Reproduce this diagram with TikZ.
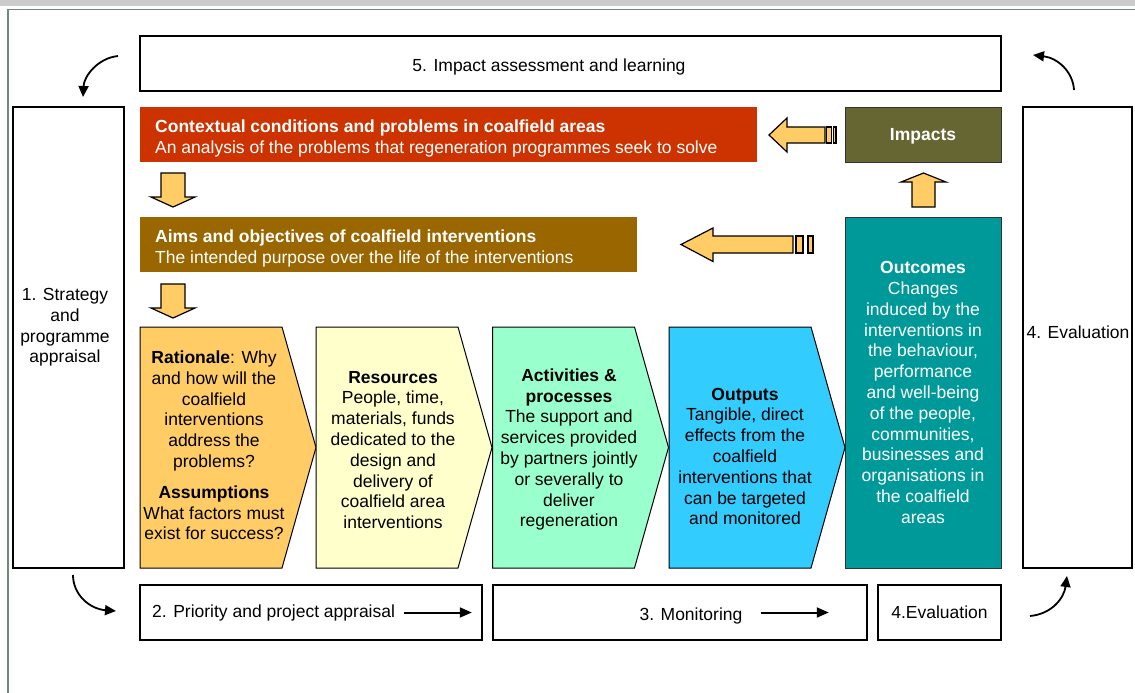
\documentclass[tikz,border=0pt]{standalone}
\usepackage{fontspec}
\setmainfont{Liberation Sans}
\usepackage{tikz}
\usetikzlibrary{shapes,arrows,arrows.meta,positioning}
\definecolor{coalred}{HTML}{CC3300}
\definecolor{aimbrown}{HTML}{996600}
\definecolor{impolive}{HTML}{666633}
\definecolor{outteal}{HTML}{009999}
\definecolor{ratorange}{HTML}{FFCC66}
\definecolor{resyellow}{HTML}{FFFFCC}
\definecolor{actgreen}{HTML}{99FFCC}
\definecolor{outpblue}{HTML}{33CCFF}
\definecolor{framegreen}{HTML}{6F8A7A}
\definecolor{bargray}{HTML}{CCCCCC}
\newcommand{\diagfont}{\fontsize{17.5}{20.8}\selectfont}
\tikzstyle{stagebox} = [draw=black, line width=1.5pt, rectangle, inner sep=0pt]
\tikzstyle{stagetext} = [font=\diagfont, align=center, inner sep=0pt]
\tikzstyle{bandbox} = [rectangle, inner sep=0pt, anchor=north west]
\tikzstyle{bandtext} = [font=\diagfont, text=white, align=left, anchor=west, inner sep=0pt]
\tikzstyle{resultbox} = [rectangle, draw=black!80, line width=1pt, text=white, font=\diagfont, align=center, inner sep=0pt]
\tikzstyle{chevron} = [draw=black, line width=1pt]
\tikzstyle{blockarrow} = [draw=black, line width=1.2pt, fill=ratorange]
\tikzstyle{turnarrow} = [line width=1.8pt, -{Triangle[length=11pt,width=10pt]}]
\tikzstyle{flowarrow} = [line width=2pt, -{Triangle[length=12pt,width=10pt]}]

\begin{document}
\begin{tikzpicture}[x=1pt,y=-1pt]
	\useasboundingbox (0,0) rectangle (1135,693);
	\fill[bargray] (0,0) rectangle (1135,6.5);
	\draw[framegreen, line width=1.5pt] (8,693) -- (8,9.5) -- (1135,9.5);

	% frame of the cycle
	\node[stagebox, minimum width=861pt, minimum height=55pt] (learning) at (570.5,63.5) {};
	\node[stagetext] (learninglabel) at (549,67) {5. Impact assessment and learning};
	\node[stagebox, minimum width=111pt, minimum height=461pt] (strategy) at (68.5,337.5) {};
	\node[stagetext] (strategylabel) at (65,327.5) {1. Strategy\\and\\programme\\appraisal};
	\node[stagebox, minimum width=109pt, minimum height=461pt] (evaluation) at (1077.5,337.5) {};
	\node[stagetext] (evaluationlabel) at (1078,332) {4. Evaluation};

	% bands
	\node[bandbox, fill=coalred, minimum width=617pt, minimum height=55pt] (context) at (140,107) {};
	\node[bandtext] (contextlabel) at (155,138.5) {\textbf{Contextual conditions and problems in coalfield areas}\\An analysis of the problems that regeneration programmes seek to solve};
	\node[bandbox, fill=aimbrown, minimum width=497pt, minimum height=55pt] (aims) at (140,217) {};
	\node[bandtext] (aimslabel) at (155,248.5) {\textbf{Aims and objectives of coalfield interventions}\\The intended purpose over the life of the interventions};

	\node[resultbox, fill=impolive, minimum width=156pt, minimum height=55pt, text depth=0pt] (impacts) at (923,134.5) {\textbf{Impacts}};
	\node[resultbox, fill=outteal, minimum width=156pt, minimum height=351pt] (outcomes) at (923,392.5) {\textbf{Outcomes}\\Changes\\induced by the\\interventions in\\the behaviour,\\performance\\and well-being\\of the people,\\communities,\\businesses and\\organisations in\\the coalfield\\areas};

	% chevrons
	\foreach \xl/\col in {140/ratorange, 316/resyellow, 492.5/actgreen, 669/outpblue}
		\draw[chevron, fill=\col] (\xl,327) -- ++(142,0) -- ++(34,120.5) -- ++(-34,120.5) -- ++(-142,0) -- cycle;
	\node[stagetext] (rationale) at (214,445.5) {\textbf{Rationale}: Why\\and how will the\\coalfield\\interventions\\address the\\problems?\\[10pt]\textbf{Assumptions}\\What factors must\\exist for success?};
	\node[stagetext] (resources) at (393,450) {\textbf{Resources}\\People, time,\\materials, funds\\dedicated to the\\design and\\delivery of\\coalfield area\\interventions};
	\node[stagetext] (activities) at (569,449.5) {\textbf{Activities \&}\\\textbf{processes}\\The support and\\services provided\\by partners jointly\\or severally to\\deliver\\regeneration};
	\node[stagetext] (outputs) at (745,456.5) {\textbf{Outputs}\\Tangible, direct\\effects from the\\coalfield\\interventions that\\can be targeted\\and monitored};

	% block arrows
	\foreach \ytop in {173,284}
		\draw[blockarrow] (161,\ytop) -- (185,\ytop) -- (185,\ytop+24) -- (195,\ytop+24) -- (173,\ytop+34) -- (151,\ytop+24) -- (161,\ytop+24) -- cycle;
	\draw[blockarrow] (912,207) -- (912,182) -- (901,182) -- (923.5,173) -- (946,182) -- (935,182) -- (935,207) -- cycle;
	\draw[blockarrow] (769,135) -- (787,118) -- (787,127) -- (825,127) -- (825,143) -- (787,143) -- (787,152) -- cycle;
	\draw[blockarrow] (826.5,127) rectangle (831.5,143);
	\draw[blockarrow] (833.5,127) rectangle (836,143);
	\draw[blockarrow] (681,244.5) -- (713,228) -- (713,236) -- (793,236) -- (793,253) -- (713,253) -- (713,261.5) -- cycle;
	\draw[blockarrow] (796,236) rectangle (803,253);
	\draw[blockarrow] (808,236) rectangle (813,253);

	% bottom row
	\node[stagebox, minimum width=342pt, minimum height=55pt] (priority) at (311,612.5) {};
	\node[stagetext, anchor=west] (prioritylabel) at (152,613) {2. Priority and project appraisal};
	\draw[flowarrow] ([xshift=-79pt]priority.east) -- ([xshift=-11pt]priority.east);
	\node[stagebox, minimum width=374pt, minimum height=55pt] (monitoring) at (680,612.5) {};
	\node[stagetext] (monitoringlabel) at (691,616) {3. Monitoring};
	\draw[flowarrow] ([xshift=-107pt]monitoring.east) -- ([xshift=-39pt]monitoring.east);
	\node[stagebox, minimum width=123pt, minimum height=55pt, font=\diagfont] (evalshort) at (939.5,612.5) {4.Evaluation};

	% turning arrows
	\coordinate (tlstart) at (118,56);
	\coordinate (tlend) at (83,97);
	\draw[turnarrow] (tlstart) .. controls (98,58) and (84,76) .. (tlend);
	\coordinate (trstart) at (1074,90);
	\coordinate (trend) at (1033,55);
	\draw[turnarrow] (trstart) .. controls (1073,72) and (1058,58) .. (trend);
	\coordinate (blstart) at (73,575);
	\coordinate (blend) at (116,611);
	\draw[turnarrow] (blstart) .. controls (73,595) and (90,609) .. (blend);
	\coordinate (brstart) at (1030,616);
	\coordinate (brend) at (1067,576);
	\draw[turnarrow] (brstart) .. controls (1052,614) and (1064,598) .. (brend);
\end{tikzpicture}
\end{document}
